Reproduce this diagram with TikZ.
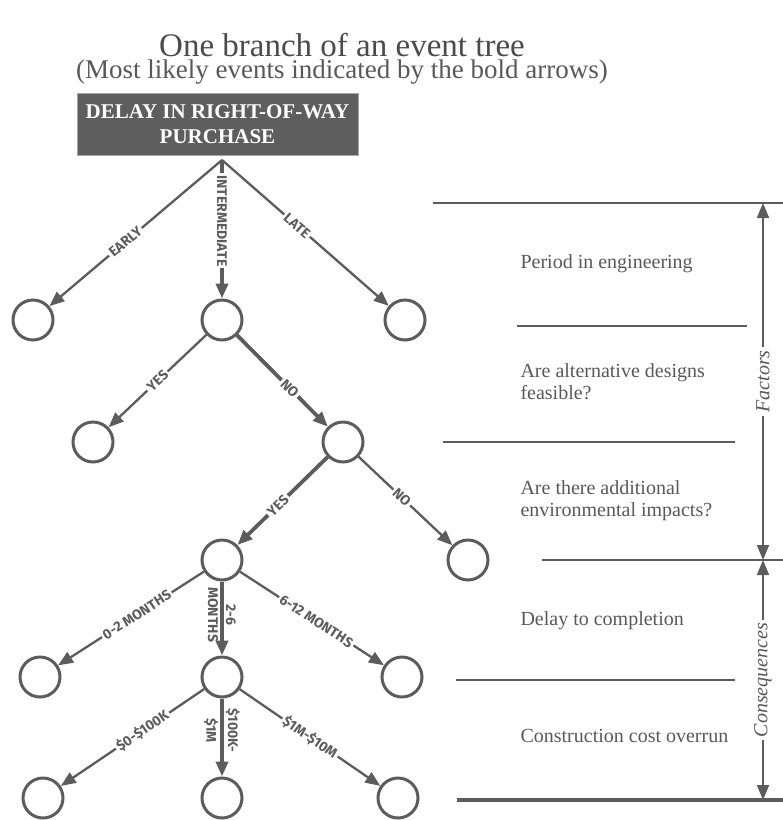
\documentclass[tikz,border=0pt]{standalone}
\usepackage{fontspec}
\setmainfont{Liberation Serif}
\newfontfamily\lblfont{Fira Sans}
\usetikzlibrary{arrows.meta}
\definecolor{treegray}{RGB}{92,92,92}
\definecolor{boxgray}{RGB}{94,94,94}
\definecolor{textgray}{RGB}{88,88,88}

\begin{document}
\begin{tikzpicture}[x=1pt, y=-1pt,
    event/.style={circle, draw=treegray, line width=3pt, minimum size=40pt, inner sep=0pt},
    branch/.style={draw=treegray, line width=2.3pt, -{Triangle[length=15pt, width=12pt]}},
    likely/.style={branch, line width=3.8pt},
    lbl/.style={font=\lblfont\bfseries\fontsize{14}{15}\selectfont, text=treegray, fill=white, inner sep=2pt, sloped},
    vlbl/.style={font=\lblfont\bfseries\fontsize{14}{15}\selectfont, text=treegray, inner sep=2pt, rotate=-90},
    rule/.style={draw=treegray, line width=2.2pt},
    stage/.style={anchor=west, text=textgray, align=left, font=\fontsize{20}{22}\selectfont},
    span/.style={draw=treegray, line width=2pt, {Triangle[length=15pt, width=12pt]}-{Triangle[length=15pt, width=12pt]}},
    spanlbl/.style={midway, fill=white, rotate=90, text=textgray, inner sep=3pt, font=\itshape\fontsize{20}{22}\selectfont}
]
    \useasboundingbox (0,0) rectangle (783,820);

    % Heading
    \node[text=textgray!85!black, font=\fontsize{33}{35}\selectfont] (title) at (342,45) {One branch of an event tree};
    \node[text=textgray, font=\fontsize{27}{29}\selectfont] (subtitle) at (342,72) {(Most likely events indicated by the bold arrows)};

    % Initiating event
    \node[fill=boxgray, draw=white!65!black, line width=0.8pt, minimum width=281pt, minimum height=62pt,
        text=white, align=center, font=\bfseries\fontsize{21}{25}\selectfont] (delay) at (217.5,124)
        {DELAY IN RIGHT-OF-WAY\\PURCHASE};
    \coordinate (root) at (222,160);

    % Event nodes
    \node[event] (early) at (33,320) {};
    \node[event] (inter) at (222,320) {};
    \node[event] (late) at (405,320) {};
    \node[event] (altyes) at (93,442) {};
    \node[event] (altno) at (343,442) {};
    \node[event] (envyes) at (222,560) {};
    \node[event] (envno) at (468,560) {};
    \node[event] (short) at (40,677) {};
    \node[event] (mid) at (222,677) {};
    \node[event] (long) at (402,677) {};
    \node[event] (low) at (43,798) {};
    \node[event] (med) at (222,798) {};
    \node[event] (high) at (398,798) {};

    % Branches
    \draw[branch] (root) -- node[lbl, pos=0.56] {EARLY} (early);
    \draw[likely] (root) -- node[vlbl, fill=white, pos=0.44] {INTERMEDIATE} (inter);
    \draw[branch] (root) -- node[lbl, pos=0.45] {LATE} (late);

    \draw[branch] (inter) -- node[lbl, pos=0.5] {YES} (altyes);
    \draw[likely] (inter) -- node[lbl, pos=0.58] {NO} (altno);

    \draw[likely] (altno) -- node[lbl, pos=0.55] {YES} (envyes);
    \draw[branch] (altno) -- node[lbl, pos=0.46] {NO} (envno);

    \draw[branch] (envyes) -- node[lbl, pos=0.46] {0-2 MONTHS} (short);
    \draw[likely] (envyes) -- node[vlbl, pos=0.45, above] {2-6} node[vlbl, pos=0.45, below] {MONTHS} (mid);
    \draw[branch] (envyes) -- node[lbl, pos=0.53] {6-12 MONTHS} (long);

    \draw[branch] (mid) -- node[lbl, pos=0.43] {\$0-\$100K} (low);
    \draw[likely] (mid) -- node[vlbl, pos=0.41, above] {\$100K-} node[vlbl, pos=0.41, below] {\$1M} (med);
    \draw[branch] (mid) -- node[lbl, pos=0.5] {\$1M-\$10M} (high);

    % Stage rules
    \draw[rule] (433,203) -- (783,203);
    \draw[rule] (517,326) -- (747,326);
    \draw[rule] (443,442) -- (735,442);
    \draw[rule] (542,560) -- (783,560);
    \draw[rule] (456,680) -- (735,680);
    \draw[rule, line width=3.6pt] (457,800) -- (783,800);

    % Stage questions
    \node[stage] (period) at (517,264) {Period in engineering};
    \node[stage] (altq) at (517,382) {Are alternative designs\\feasible?};
    \node[stage] (envq) at (517,501) {Are there additional\\environmental impacts?};
    \node[stage] (delayq) at (517,621) {Delay to completion};
    \node[stage] (costq) at (517,736) {Construction cost overrun};

    % Factors and consequences
    \coordinate (ftop) at (763,203);
    \coordinate (fbot) at (763,560);
    \coordinate (cbot) at (763,800);
    \draw[span] (ftop) -- node[spanlbl] {Factors} (fbot);
    \draw[span] (fbot) -- node[spanlbl] {Consequences} (cbot);
\end{tikzpicture}
\end{document}
